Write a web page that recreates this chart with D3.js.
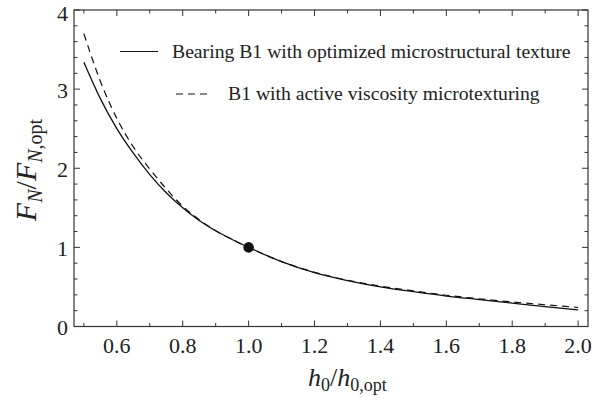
<!DOCTYPE html>
<html>
<head>
<meta charset="utf-8">
<script src="https://cdn.jsdelivr.net/npm/d3@7"></script>
<style>
  body { margin: 0; background: #fff; }
</style>
</head>
<body>
<div id="chart"></div>
<script>
// F_N / F_N,opt versus h0 / h0,opt
const width = 609;
const height = 403;
const margin = { top: 10, right: 21, bottom: 76.5, left: 74 };
const serif = '"Liberation Serif", serif';

const hRatio = [0.50, 0.55, 0.60, 0.65, 0.70, 0.75, 0.80, 0.85, 0.90, 0.95, 1.00,
                1.10, 1.20, 1.30, 1.40, 1.50, 1.60, 1.70, 1.80, 1.90, 2.00];
const forceOptimized = [3.34, 2.88, 2.50, 2.19, 1.92, 1.69, 1.50, 1.34, 1.21, 1.10, 1.00,
                        0.82, 0.68, 0.58, 0.50, 0.44, 0.385, 0.34, 0.295, 0.25, 0.21];
const forceActive = [3.70, 3.10, 2.63, 2.27, 1.99, 1.74, 1.52, 1.35, 1.21, 1.10, 1.00,
                     0.82, 0.685, 0.585, 0.51, 0.45, 0.395, 0.35, 0.31, 0.275, 0.24];
const optimumPoint = [1.0, 1.0];

const xMajor = [0.6, 0.8, 1.0, 1.2, 1.4, 1.6, 1.8, 2.0];
const xMinor = [0.5, 0.7, 0.9, 1.1, 1.3, 1.5, 1.7, 1.9];
const yMajor = [0, 1, 2, 3, 4];
const yMinor = d3.range(0.2, 4, 0.2).filter(v => Math.abs(v - Math.round(v)) > 1e-6);

const legendItems = [
    { label: 'Bearing B1 with optimized microstructural texture', dash: null },
    { label: 'B1 with active viscosity microtexturing', dash: '7,5' }
];

const svg = d3.select('#chart')
    .append('svg')
    .attr('width', width)
    .attr('height', height)
    .style('font-family', serif);

const x = d3.scaleLinear().domain([0.47, 2.03]).range([margin.left, width - margin.right]);
const y = d3.scaleLinear().domain([0, 4]).range([height - margin.bottom, margin.top]);

const axisColor = '#333';
const bigTick = 6;
const smallTick = 3.5;

// frame
svg.append('rect')
    .attr('x', x.range()[0])
    .attr('y', y.range()[1])
    .attr('width', x.range()[1] - x.range()[0])
    .attr('height', y.range()[0] - y.range()[1])
    .attr('fill', 'none')
    .attr('stroke', axisColor)
    .attr('stroke-width', 1.2);

// inward ticks on all four sides
const ticks = svg.append('g').attr('stroke', axisColor).attr('stroke-width', 1);
const xTicks = xMajor.map(v => ({ v, len: bigTick })).concat(xMinor.map(v => ({ v, len: smallTick })));
const yTicks = yMajor.map(v => ({ v, len: bigTick })).concat(yMinor.map(v => ({ v, len: smallTick })));

xTicks.forEach(t => {
    ticks.append('line').attr('x1', x(t.v)).attr('x2', x(t.v))
        .attr('y1', y(0)).attr('y2', y(0) - t.len);
    ticks.append('line').attr('x1', x(t.v)).attr('x2', x(t.v))
        .attr('y1', y(4)).attr('y2', y(4) + t.len);
});
yTicks.forEach(t => {
    ticks.append('line').attr('y1', y(t.v)).attr('y2', y(t.v))
        .attr('x1', x.range()[0]).attr('x2', x.range()[0] + t.len);
    ticks.append('line').attr('y1', y(t.v)).attr('y2', y(t.v))
        .attr('x1', x.range()[1]).attr('x2', x.range()[1] - t.len);
});

// tick labels
svg.selectAll('.xlab')
    .data(xMajor)
    .enter()
    .append('text')
    .attr('class', 'xlab')
    .attr('x', d => x(d))
    .attr('y', y(0) + 26)
    .attr('text-anchor', 'middle')
    .style('font-family', serif)
    .style('font-size', '22px')
    .attr('fill', '#222')
    .text(d => d.toFixed(1));

svg.selectAll('.ylab')
    .data(yMajor)
    .enter()
    .append('text')
    .attr('class', 'ylab')
    .attr('x', x.range()[0] - 6)
    .attr('y', d => Math.max(y(d) + 8.5, 20.5))  // top label kept inside the page
    .attr('text-anchor', 'end')
    .style('font-family', serif)
    .style('font-size', '22px')
    .attr('fill', '#222')
    .text(d => d);

// axis titles
const xTitle = svg.append('text')
    .attr('x', 308)
    .attr('y', 386)
    .attr('text-anchor', 'start')
    .style('font-family', serif)
    .style('font-size', '26px')
    .attr('fill', '#222');
xTitle.append('tspan').style('font-style', 'italic').text('h');
xTitle.append('tspan').attr('dy', 5).style('font-size', '18px').text('0');
xTitle.append('tspan').attr('dy', -5).text('/');
xTitle.append('tspan').style('font-style', 'italic').text('h');
xTitle.append('tspan').attr('dy', 5).style('font-size', '18px').text('0,opt');

const yTitle = svg.append('text')
    .attr('transform', `translate(36, 170) rotate(-90)`)
    .attr('text-anchor', 'middle')
    .style('font-family', serif)
    .style('font-size', '30px')
    .attr('fill', '#222');
yTitle.append('tspan').style('font-style', 'italic').text('F');
yTitle.append('tspan').attr('dy', 6).style('font-size', '20px').style('font-style', 'italic').text('N');
yTitle.append('tspan').attr('dy', -6).text('/');
yTitle.append('tspan').style('font-style', 'italic').text('F');
yTitle.append('tspan').attr('dy', 6).style('font-size', '20px').style('font-style', 'italic').text('N');
yTitle.append('tspan').style('font-size', '20px').text(',opt');

// curves
const line = d3.line()
    .x(d => x(d[0]))
    .y(d => y(d[1]))
    .curve(d3.curveMonotoneX);

svg.append('path')
    .datum(hRatio.map((h, i) => [h, forceOptimized[i]]))
    .attr('d', line)
    .attr('fill', 'none')
    .attr('stroke', '#111')
    .attr('stroke-width', 1.3);

svg.append('path')
    .datum(hRatio.map((h, i) => [h, forceActive[i]]))
    .attr('d', line)
    .attr('fill', 'none')
    .attr('stroke', '#111')
    .attr('stroke-width', 1.2)
    .attr('stroke-dasharray', '7,5');

// optimum marker
svg.append('circle')
    .attr('cx', x(optimumPoint[0]))
    .attr('cy', y(optimumPoint[1]))
    .attr('r', 5.3)
    .attr('fill', '#111');

// legend
const legendRows = [
    { lineX: [120, 158], textX: 172, y: 51.5 },
    { lineX: [176, 212], textX: 228, y: 94 }
];
legendItems.forEach((item, i) => {
    const row = legendRows[i];
    svg.append('line')
        .attr('x1', row.lineX[0]).attr('x2', row.lineX[1])
        .attr('y1', row.y).attr('y2', row.y)
        .attr('stroke', '#111')
        .attr('stroke-width', 1.2)
        .attr('stroke-dasharray', item.dash);
    svg.append('text')
        .attr('x', row.textX)
        .attr('y', row.y + 6)
        .style('font-family', serif)
        .style('font-size', '19.7px')
        .attr('fill', '#222')
        .text(item.label);
});
</script>
</body>
</html>
